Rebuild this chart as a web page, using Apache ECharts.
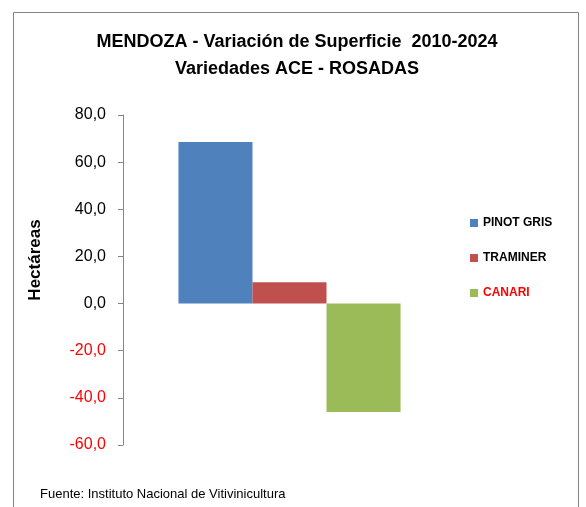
<!DOCTYPE html>
<html>
<head>
<meta charset="utf-8">
<script src="https://cdn.jsdelivr.net/npm/echarts@6/dist/echarts.min.js"></script>
<style>
html, body { margin: 0; padding: 0; background: #fff; }
#main { width: 586px; height: 507px; }
</style>
</head>
<body>
<div id="main"></div>
<script>
// datos
var categorias = ['2010-2024'];
var variedades = ['PINOT GRIS', 'TRAMINER', 'CANARI'];
var valores = [68.5, 9.0, -46.0];
var colores = ['#4F81BD', '#C0504D', '#9BBB59'];
var ejeY = { min: -60, max: 80, interval: 20 };

var myChart = echarts.init(document.getElementById('main'));

var series = variedades.map(function (nombre, i) {
    return {
        name: nombre,
        type: 'bar',
        data: [valores[i]],
        barGap: '0%',
        barCategoryGap: '33.3%',
        itemStyle: { color: colores[i] },
        emphasis: { disabled: true }
    };
});

myChart.setOption({
    backgroundColor: '#FFF',
    animation: false,
    textStyle: { fontFamily: 'Liberation Sans' },
    legend: {
        orient: 'vertical',
        left: 465, top: 212,
        itemWidth: 8, itemHeight: 8, itemGap: 23,
        icon: 'rect',
        textStyle: { fontSize: 12, fontWeight: 'bold', color: '#000' },
        data: [
            { name: 'PINOT GRIS' },
            { name: 'TRAMINER' },
            { name: 'CANARI', textStyle: { color: '#FF0000' } }
        ]
    },
    grid: { left: 123, right: 130, top: 115, bottom: 62 },
    xAxis: {
        type: 'category',
        data: categorias,
        show: false
    },
    yAxis: {
        type: 'value',
        min: ejeY.min, max: ejeY.max, interval: ejeY.interval,
        axisLine: { show: true, lineStyle: { color: '#868686' } },
        axisTick: { show: true, length: 5, lineStyle: { color: '#868686' } },
        splitLine: { show: false },
        axisLabel: {
            fontSize: 16, margin: 17,
            color: function (v) { return v < 0 ? '#FF0000' : '#000'; },
            formatter: function (v) { return v.toFixed(1).replace('.', ','); }
        }
    },
    series: series,
    graphic: [{
        type: 'rect',
        shape: { x: 13.5, y: 12.5, width: 565, height: 520 },
        style: { fill: 'none', stroke: '#868686', lineWidth: 1 },
        silent: true
    }, {
        type: 'text',
        x: 297, y: 42,
        style: {
            text: 'MENDOZA - Variación de Superficie  2010-2024',
            fontSize: 18, fontWeight: 'bold', fontFamily: 'Liberation Sans',
            fill: '#000', align: 'center', verticalAlign: 'middle'
        }
    }, {
        type: 'text',
        x: 297, y: 69,
        style: {
            text: 'Variedades ACE - ROSADAS',
            fontSize: 18, fontWeight: 'bold', fontFamily: 'Liberation Sans',
            fill: '#000', align: 'center', verticalAlign: 'middle'
        }
    }, {
        type: 'text',
        x: 35, y: 260, rotation: Math.PI / 2,
        style: {
            text: 'Hectáreas', fontSize: 17, fontWeight: 'bold',
            fontFamily: 'Liberation Sans', fill: '#000',
            align: 'center', verticalAlign: 'middle'
        }
    }, {
        type: 'text',
        x: 40, y: 494,
        style: {
            text: 'Fuente: Instituto Nacional de Vitivinicultura',
            fontSize: 13, fontFamily: 'Liberation Sans', fill: '#000',
            verticalAlign: 'middle'
        }
    }]
});
</script>
</body>
</html>
